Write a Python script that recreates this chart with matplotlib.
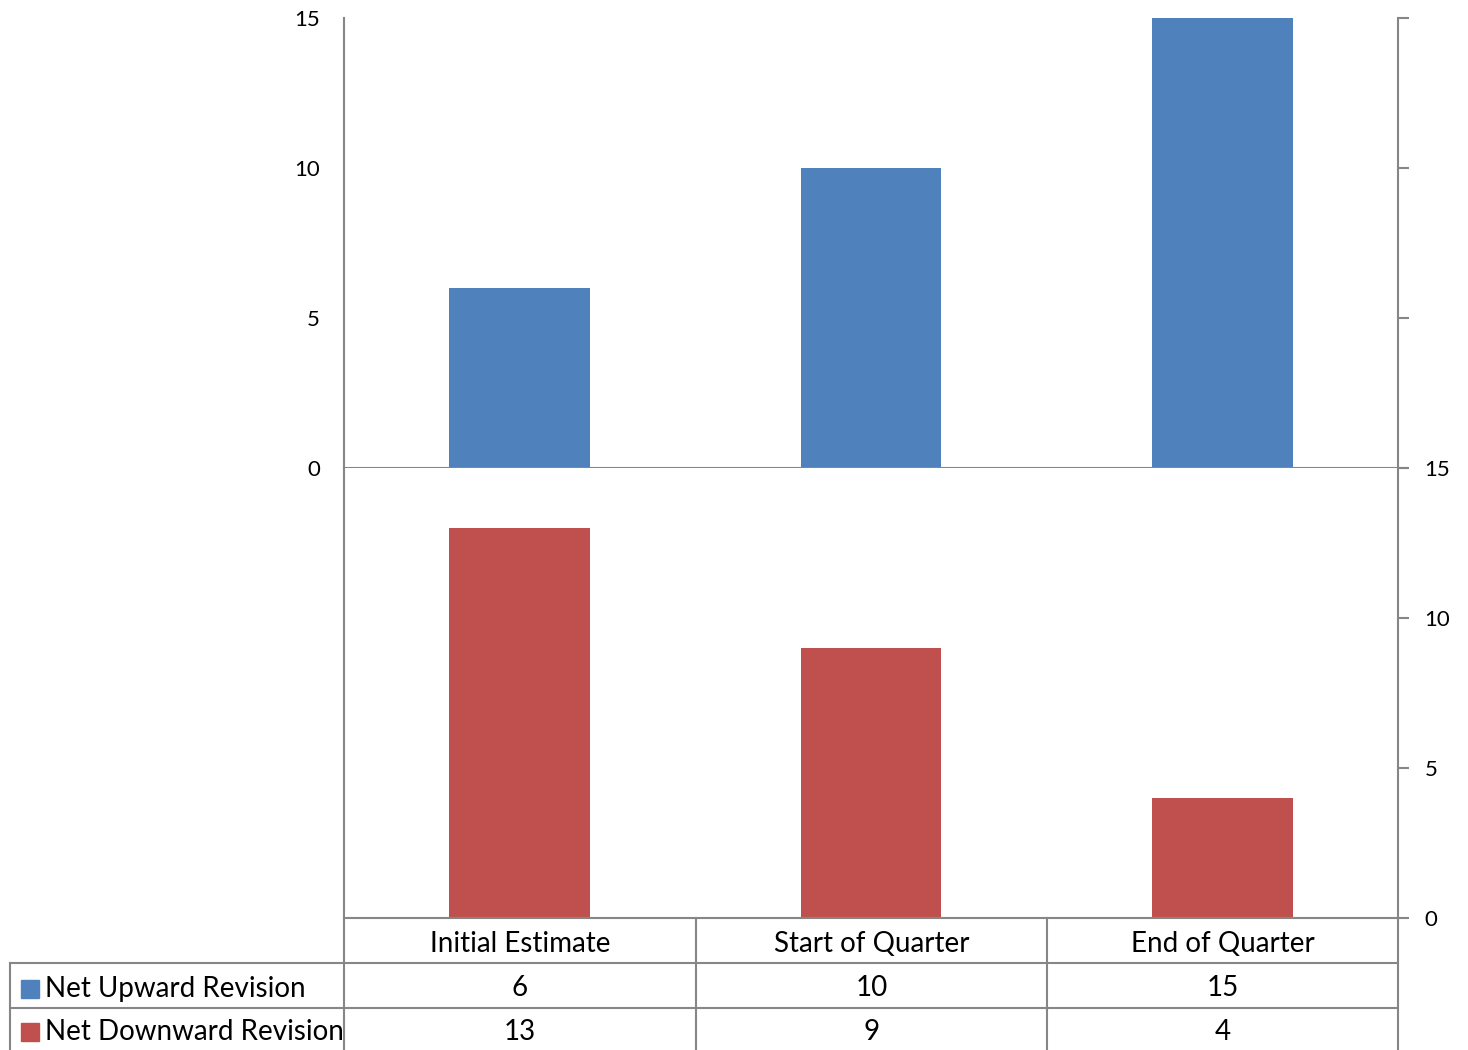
import matplotlib
matplotlib.use("Agg")
import matplotlib.pyplot as plt
from matplotlib.lines import Line2D
from matplotlib.patches import Rectangle

categorias = ["Initial Estimate", "Start of Quarter", "End of Quarter"]
series = ["Net Upward Revision", "Net Downward Revision"]
arriba = [6, 10, 15]
abajo = [13, 9, 4]
ticks = [0, 5, 10, 15]

AZUL = "#4F81BD"
ROJO = "#C0504D"
GRIS = "#868686"
W, H = 1468, 1050

plt.rcParams['font.family'] = ['Lato', 'DejaVu Sans']

fig = plt.figure(figsize=(W / 100, H / 100), dpi=100)

def caja(x0, y0, x1, y1):
    # convierte pixeles (desde arriba) a fraccion de figura
    return [x0 / W, 1 - y1 / H, (x1 - x0) / W, (y1 - y0) / H]

def fx(x):
    return x / W

def fy(y):
    return 1 - y / H

ax1 = fig.add_axes(caja(344, 18, 1398, 468))
ax2 = fig.add_axes(caja(344, 468, 1398, 918))

xs = list(range(len(categorias)))
ax1.bar(xs, arriba, width=0.4, color=AZUL)
ax2.bar(xs, abajo, width=0.4, color=ROJO)

for ax in (ax1, ax2):
    ax.set_xlim(-0.5, 2.5)
    ax.set_ylim(0, 15)
    ax.set_xticks([])
    ax.spines['top'].set_visible(False)
    for s in ('left', 'right', 'bottom'):
        ax.spines[s].set_color(GRIS)
        ax.spines[s].set_linewidth(1.5)
    ax.yaxis.set_ticks_position('right')
    ax.set_yticks(ticks)
    ax.tick_params(axis='y', direction='out', length=8, width=1.5, color=GRIS,
                   labelsize=16, pad=11)

ax2.spines['bottom'].set_visible(False)
ax1.tick_params(axis='y', labelright=False)

# etiquetas del eje izquierdo (solo panel de arriba)
for t in ticks:
    ax1.text((320 - 344) / 1054, t - 0.07, str(t), transform=ax1.get_yaxis_transform(),
             ha='right', va='center', fontsize=16)

# tabla de datos
def linea(x0, y0, x1, y1):
    fig.add_artist(Line2D([fx(x0), fx(x1)], [fy(y0), fy(y1)], color=GRIS, lw=1.5))

cols = [344, 696, 1047, 1398]
filas = [918, 963, 1008, 1053]
linea(344, 918, 1398, 918)
for y in filas[1:]:
    linea(10, y, 1398, y)
for x in cols:
    linea(x, 918, x, 1053)
linea(10, 963, 10, 1053)

for i, c in enumerate(categorias):
    cx = (cols[i] + cols[i + 1]) / 2
    fig.text(fx(cx), fy((filas[0] + filas[1]) / 2 + 3), c, ha='center', va='center', fontsize=20)
    fig.text(fx(cx), fy((filas[1] + filas[2]) / 2 + 3), str(arriba[i]), ha='center', va='center', fontsize=20)
    fig.text(fx(cx), fy((filas[2] + filas[3]) / 2 + 1), str(abajo[i]), ha='center', va='center', fontsize=20)

for j, (nombre, col) in enumerate(zip(series, [AZUL, ROJO])):
    yc = (filas[j + 1] + filas[j + 2]) / 2 + (1 if j else 3)
    fig.add_artist(Rectangle((fx(21), fy(yc + 9)), 18 / W, 18 / H, color=col,
                             transform=fig.transFigure))
    fig.text(fx(45), fy(yc), nombre, ha='left', va='center', fontsize=20)

plt.savefig('out.png', dpi=100)
